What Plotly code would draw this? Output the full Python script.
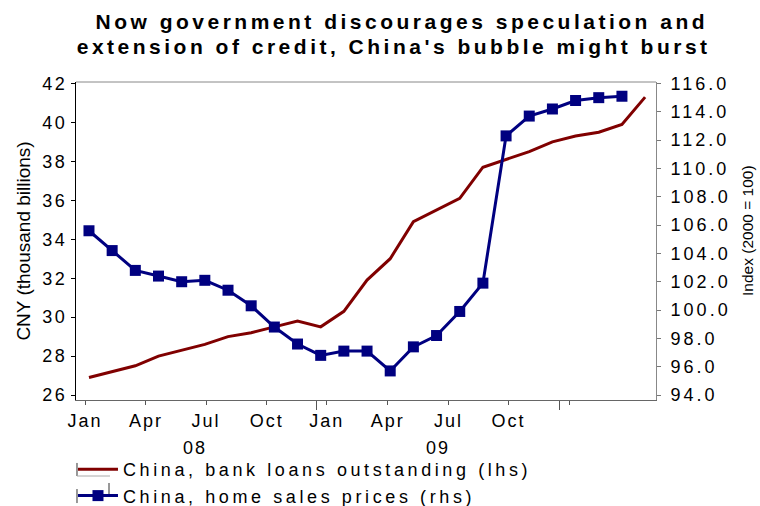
import plotly.graph_objects as go

# Monthly series, Jan 2008 onwards
bank_loans = [26.9, 27.2, 27.5, 28.0, 28.3, 28.6, 29.0, 29.2, 29.5, 29.8, 29.5, 30.3,
              31.9, 33.0, 34.9, 35.5, 36.1, 37.7, 38.1, 38.5, 39.0, 39.3, 39.5, 39.9, 41.3]
home_prices = [105.6, 104.2, 102.8, 102.4, 102.0, 102.1, 101.4, 100.3, 98.8, 97.6, 96.8, 97.1,
               97.1, 95.7, 97.4, 98.2, 99.9, 101.9, 112.3, 113.7, 114.2, 114.8, 115.0, 115.1]

# Axis labelling (positions in period units)
month_tick_pos = [-0.17, 2.46, 5.05, 7.67, 10.26, 12.89, 15.51, 18.10, 20.72]
month_tick_text = ["Jan", "Apr", "Jul", "Oct", "Jan", "Apr", "Jul", "Oct", ""]
year_break_pos = [9.83, 20.29]
year_label_pos = [4.58, 15.05]
year_label_text = ["08", "09"]
left_ticks = [26, 28, 30, 32, 34, 36, 38, 40, 42]
right_ticks = [94, 96, 98, 100, 102, 104, 106, 108, 110, 112, 114, 116]

title_lines = ["Now government discourages speculation and",
               "extension of credit, China's bubble might burst"]

FONT = "Liberation Sans, Arial, sans-serif"
RED = "#800000"
NAVY = "#000080"

x_loans = list(range(len(bank_loans)))
x_prices = list(range(len(home_prices)))

fig = go.Figure()
fig.add_trace(go.Scatter(
    x=x_loans, y=bank_loans, name="China, bank loans outstanding (lhs)",
    mode="lines", line=dict(color=RED, width=3), yaxis="y"))
fig.add_trace(go.Scatter(
    x=x_prices, y=home_prices, name="China, home sales prices (rhs)",
    mode="lines+markers", line=dict(color=NAVY, width=3),
    marker=dict(symbol="square", size=11, color=NAVY), yaxis="y2"))

# Two-line bold heading (annotations 0 and 1)
annotations = [
    dict(x=xc, y=yc, xref="paper", yref="paper", text="<b>" + line + "</b>", showarrow=False,
         xanchor="center", yanchor="middle", font=dict(size=21, family=FONT, color="black"))
    for line, xc, yc in zip(title_lines, [0.562, 0.548], [1.1887, 1.1132])
]
# Year labels under the month ticks (annotations 2 and 3)
annotations += [
    dict(x=xp, y=-0.152, xref="x", yref="paper", text=t, showarrow=False,
         xanchor="center", yanchor="middle", font=dict(size=18, family=FONT, color="black"))
    for xp, t in zip(year_label_pos, year_label_text)
]
# Right-hand axis title
annotations.append(dict(
    x=1.1586, y=0.5346, xref="paper", yref="paper", text="Index (2000 = 100)",
    textangle=-90, showarrow=False, xanchor="center", yanchor="middle",
    font=dict(size=15.5, family=FONT, color="black")))

# Small frame marks around the legend keys
legend_marks = [
    dict(x0=0.0017, x1=0.0017, y0=-0.198, y1=-0.239, color="#333"),
    dict(x0=0.0017, x1=0.0586, y0=-0.239, y1=-0.239, color="#aaa"),
    dict(x0=0.0017, x1=0.0017, y0=-0.280, y1=-0.324, color="#333"),
    dict(x0=0.0569, x1=0.0569, y0=-0.261, y1=-0.299, color="#333"),
]
shapes = [dict(type="line", xref="paper", yref="paper", x0=0, x1=1, y0=1, y1=1,
               line=dict(color="#888", width=1))]
shapes += [dict(type="line", xref="paper", yref="paper", x0=m["x0"], x1=m["x1"],
                y0=m["y0"], y1=m["y1"], line=dict(color=m["color"], width=1))
           for m in legend_marks]

fig.update_layout(
    width=760, height=506,
    margin=dict(l=76, r=104, t=82, b=106, autoexpand=False),
    paper_bgcolor="white", plot_bgcolor="white",
    font=dict(family=FONT, size=18, color="black"),
    xaxis=dict(
        range=[-0.56, 24.47], tickmode="array", tickvals=month_tick_pos, ticktext=month_tick_text,
        ticks="outside", ticklen=4, tickcolor="#555", tickwidth=1,
        showline=True, linecolor="#666", linewidth=1,
        showgrid=False, zeroline=False, tickfont=dict(size=18),
        ticklabelstandoff=0, automargin=False,
        minor=dict(tickmode="array", tickvals=year_break_pos, ticks="outside",
                   ticklen=9, tickcolor="#555", tickwidth=1, showgrid=False)),
    yaxis=dict(
        range=[25.743, 42.077], tickmode="array", tickvals=left_ticks,
        ticks="outside", ticklen=4, tickcolor="black",
        showline=True, linecolor="black", linewidth=1,
        showgrid=False, zeroline=False, tickfont=dict(size=18), automargin=False,
        title=dict(text="CNY (thousand billions)", font=dict(size=19), standoff=11)),
    yaxis2=dict(
        range=[93.647, 116.106], overlaying="y", side="right", tickmode="array",
        tickvals=right_ticks, tickformat=".1f",
        ticks="outside", ticklen=4, tickcolor="#777",
        showline=True, linecolor="#888", linewidth=1,
        showgrid=False, zeroline=False, tickfont=dict(size=18),
        ticklabelstandoff=6, automargin=False),
    legend=dict(x=-0.0052, y=-0.1604, xanchor="left", yanchor="top", font=dict(size=18),
                bgcolor="rgba(0,0,0,0)", itemwidth=40, tracegroupgap=0),
    showlegend=True,
    annotations=annotations,
    shapes=shapes,
)

# Wide letter spacing for the chart's lettering, as a stylesheet so that it
# also applies to anything drawn later
spacing_css = (
    ".xtick text { letter-spacing: 2px; }"
    ".ytick text { letter-spacing: 2.5px; }"
    ".y2tick text { letter-spacing: 3px; }"
    ".legend text, text.legendtext { letter-spacing: 3.6px !important; }"
    ".legend .scrollbox, .legend g { clip-path: none !important; }"
    ".annotation[data-index='0'] .annotation-text,"
    ".annotation[data-index='1'] .annotation-text { letter-spacing: 3.5px; }"
    ".annotation[data-index='2'] .annotation-text,"
    ".annotation[data-index='3'] .annotation-text { letter-spacing: 2px; }"
)
spacing_js = (
    "var s = document.createElement('style');"
    "s.textContent = \"" + spacing_css + "\";"
    "document.head.appendChild(s);"
)

fig.write_html("out.html", post_script=spacing_js)
